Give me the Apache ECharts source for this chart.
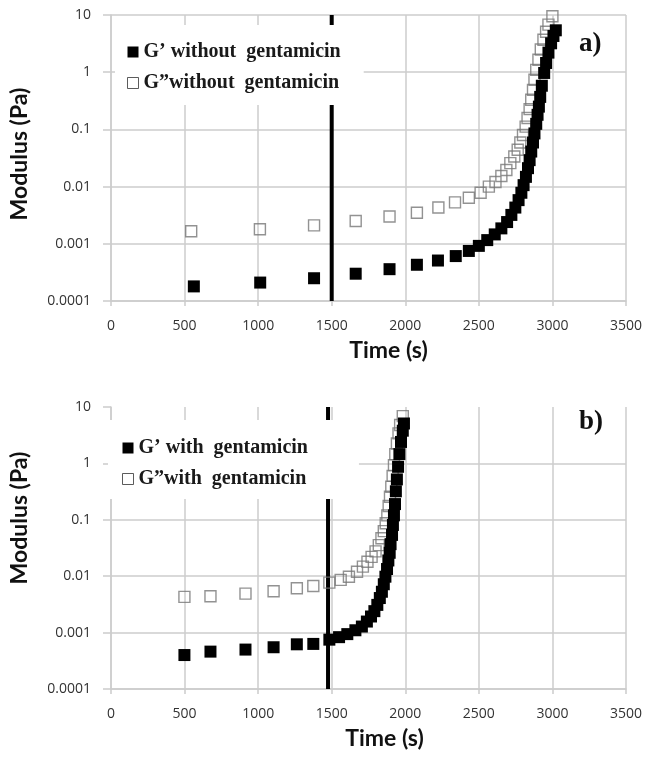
<!DOCTYPE html>
<html>
<head>
<meta charset="utf-8">
<script src="https://cdn.jsdelivr.net/npm/echarts@6/dist/echarts.min.js"></script>
<style>
  html, body { margin: 0; padding: 0; background: #fff; }
  #chart { width: 645px; height: 757px; }
</style>
</head>
<body>
<div id="chart"></div>
<script>
// axis ticks (time in s, modulus in Pa on a log scale)
const timeTicks = [0, 500, 1000, 1500, 2000, 2500, 3000, 3500];
const modulusTicks = [0.0001, 0.001, 0.01, 0.1, 1, 10];

// a) without gentamicin
const timeGpA = [563, 1014, 1380, 1663, 1893, 2079, 2222, 2343, 2432, 2500, 2557, 2608, 2653, 2692, 2721, 2748, 2770, 2789, 2804, 2820, 2834, 2845, 2856, 2868, 2878, 2890, 2899, 2908, 2917, 2928, 2944, 2957, 2973, 2991, 3007, 3023];
const gPrimeA = [0.00018, 0.00021, 0.00025, 0.00030, 0.00036, 0.00043, 0.00051, 0.00061, 0.00075, 0.00092, 0.00116, 0.00146, 0.00186, 0.0024, 0.0032, 0.0043, 0.0058, 0.0078, 0.0106, 0.0148, 0.021, 0.029, 0.041, 0.059, 0.085, 0.125, 0.18, 0.25, 0.37, 0.58, 0.97, 1.45, 2.2, 3.2, 4.3, 5.4];
const timeGppA = [545, 1012, 1380, 1663, 1893, 2079, 2225, 2338, 2432, 2512, 2568, 2613, 2653, 2687, 2714, 2741, 2764, 2782, 2800, 2818, 2831, 2845, 2856, 2868, 2878, 2890, 2905, 2921, 2939, 2957, 2973, 3000];
const gDoubleA = [0.00166, 0.0018, 0.0021, 0.0025, 0.0030, 0.0035, 0.0043, 0.0053, 0.0064, 0.0078, 0.010, 0.012, 0.0153, 0.0195, 0.0257, 0.0335, 0.044, 0.059, 0.08, 0.112, 0.158, 0.226, 0.33, 0.49, 0.74, 1.1, 1.65, 2.5, 3.7, 5.1, 6.8, 9.5];
const gelTimeA = 1500;

// b) with gentamicin
const timeGpB = [499, 676, 914, 1105, 1263, 1375, 1484, 1550, 1606, 1661, 1705, 1739, 1767, 1790, 1810, 1827, 1841, 1854, 1865, 1876, 1885, 1894, 1900, 1910, 1916, 1923, 1930, 1936, 1943, 1951, 1960, 1971, 1983, 1991];
const gPrimeB = [0.0004, 0.00046, 0.0005, 0.00055, 0.00062, 0.00063, 0.00075, 0.00083, 0.00094, 0.0011, 0.00128, 0.00157, 0.00193, 0.0024, 0.0031, 0.0041, 0.0053, 0.0072, 0.0098, 0.0134, 0.019, 0.026, 0.037, 0.054, 0.081, 0.12, 0.19, 0.32, 0.52, 0.87, 1.46, 2.4, 3.8, 5.1];
const timeGppB = [499, 676, 914, 1105, 1263, 1375, 1484, 1561, 1617, 1672, 1712, 1743, 1771, 1798, 1820, 1838, 1854, 1867, 1878, 1887, 1896, 1905, 1914, 1923, 1932, 1943, 1954, 1965, 1983];
const gDoubleB = [0.0043, 0.0044, 0.0049, 0.0054, 0.0061, 0.0067, 0.0077, 0.0086, 0.0098, 0.012, 0.0148, 0.018, 0.022, 0.0275, 0.0355, 0.047, 0.063, 0.087, 0.12, 0.176, 0.257, 0.385, 0.6, 0.93, 1.46, 2.26, 3.4, 4.8, 6.9];
const gelTimeB = 1475;

const names = {
  gpA: 'G\u2019 without  gentamicin',
  gppA: 'G\u201Dwithout  gentamicin',
  gpB: 'G\u2019 with  gentamicin',
  gppB: 'G\u201Dwith  gentamicin'
};

const pairs = (xs, ys) => xs.map((x, i) => [x, ys[i]]);

const gridGray = '#cccccc';
const labelFont = { fontFamily: 'Open Sans', fontSize: 14, color: '#333' };
const titleFont = { fontFamily: 'Lato', fontSize: 23, fontWeight: 'bold', color: '#111' };

function xAxisFor(gridIndex, shift) {
  return {
    type: 'value', gridIndex,
    min: timeTicks[0], max: timeTicks[timeTicks.length - 1],
    interval: timeTicks[1] - timeTicks[0],
    name: 'Time (s)', nameLocation: 'middle', nameGap: 38,
    nameTextStyle: Object.assign({ padding: [0, 0, 0, shift] }, titleFont),
    axisLine: { show: true, lineStyle: { color: gridGray, width: 1.5 } },
    axisTick: { show: true, length: 5, lineStyle: { color: gridGray, width: 1.5 } },
    axisLabel: Object.assign({ margin: 18, formatter: v => String(v) }, labelFont),
    splitLine: { show: true, lineStyle: { color: gridGray, width: 1.5 } }
  };
}

function yAxisFor(gridIndex, showTop, shift) {
  return {
    type: 'log', logBase: 10, gridIndex,
    min: modulusTicks[0], max: modulusTicks[modulusTicks.length - 1],
    interval: 1,
    name: 'Modulus (Pa)', nameLocation: 'middle', nameGap: 80,
    nameTextStyle: Object.assign({ padding: [0, 0, 0, shift] }, titleFont),
    axisLine: { show: true, lineStyle: { color: gridGray, width: 1.5 } },
    axisTick: { show: true, length: 8, lineStyle: { color: gridGray, width: 1.5 } },
    axisLabel: Object.assign({
      margin: 20,
      formatter: v => String(Number(v.toPrecision(3)))
    }, labelFont),
    splitLine: { show: true, showMaxLine: showTop, lineStyle: { color: gridGray, width: 1.5 } }
  };
}

function legendFor(top, left, a, b, padding) {
  return {
    orient: 'vertical', left, top,
    backgroundColor: '#fff',
    padding,
    itemGap: 9,
    itemWidth: 11, itemHeight: 11,
    icon: 'rect',
    textStyle: { fontFamily: 'Liberation Serif', fontWeight: 'bold', fontSize: 20, lineHeight: 22, color: '#1a1a1a' },
    data: [
      { name: a, itemStyle: { color: '#000', borderWidth: 0 } },
      { name: b, itemStyle: { color: '#fff', borderColor: '#333', borderWidth: 1 } }
    ]
  };
}

function gelLine(idx, t) {
  return {
    type: 'line', xAxisIndex: idx, yAxisIndex: idx,
    data: [[t, modulusTicks[0]], [t, modulusTicks[modulusTicks.length - 1]]],
    symbol: 'none', silent: true, z: 1,
    lineStyle: { color: '#000', width: 4 }
  };
}

function openSquares(idx, name, xs, ys) {
  return {
    type: 'scatter', name, xAxisIndex: idx, yAxisIndex: idx,
    data: pairs(xs, ys), symbol: 'rect', symbolSize: 11, z: 2,
    itemStyle: { color: 'rgba(255,255,255,0)', borderColor: '#777', borderWidth: 1.4 }
  };
}

function filledSquares(idx, name, xs, ys) {
  return {
    type: 'scatter', name, xAxisIndex: idx, yAxisIndex: idx,
    data: pairs(xs, ys), symbol: 'rect', symbolSize: 12, z: 3,
    itemStyle: { color: '#000', opacity: 1 }
  };
}

const chart = echarts.init(document.getElementById('chart'));
chart.setOption({
  animation: false,
  backgroundColor: '#fff',
  grid: [
    { left: 108, top: 15, width: 519, height: 286 },
    { left: 108.5, top: 407, width: 526.5, height: 282 }
  ],
  xAxis: [xAxisFor(0, 40), xAxisFor(1, 32)],
  yAxis: [yAxisFor(0, true, 8), yAxisFor(1, false, 60)],
  legend: [
    legendFor(25, 115, names.gpA, names.gppA, [16, 23, 11, 12]),
    legendFor(420, 108, names.gpB, names.gppB, [17, 51, 9, 14])
  ],
  graphic: [
    { type: 'text', left: 579, top: 31, style: { text: 'a)', font: 'bold 27px "Liberation Serif"', fill: '#111' } },
    { type: 'text', left: 579, top: 409, style: { text: 'b)', font: 'bold 27px "Liberation Serif"', fill: '#111' } }
  ],
  series: [
    gelLine(0, gelTimeA),
    openSquares(0, names.gppA, timeGppA, gDoubleA),
    filledSquares(0, names.gpA, timeGpA, gPrimeA),
    gelLine(1, gelTimeB),
    openSquares(1, names.gppB, timeGppB, gDoubleB),
    filledSquares(1, names.gpB, timeGpB, gPrimeB)
  ]
});
</script>
</body>
</html>
